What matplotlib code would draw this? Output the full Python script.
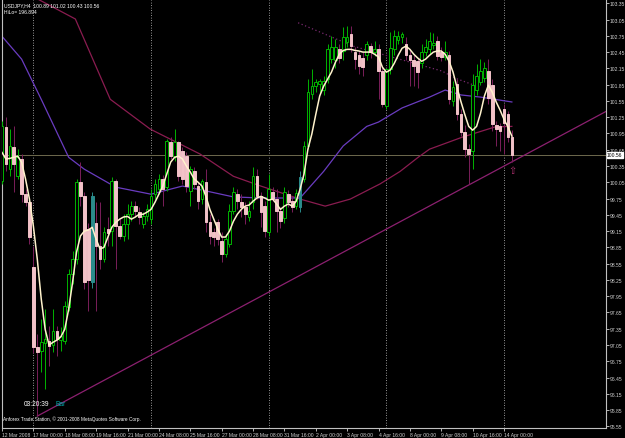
import numpy as np
import matplotlib.pyplot as plt

# USDJPY H4 candles (bar 0 = left edge)
opens = [100.07, 101.06, 100.29, 100.70, 100.16, 100.48, 99.83, 99.68, 98.48, 97.01,
         96.94, 97.08, 97.12, 97.05, 97.31, 97.14, 97.12, 97.75, 98.36, 98.63,
         100.05, 99.79, 99.19, 98.21, 99.30, 98.87, 98.63, 99.19, 99.15, 100.07,
         99.24, 99.06, 99.28, 99.46, 99.61, 99.50, 99.28, 99.43, 99.37, 99.83,
         99.92, 100.11, 99.96, 100.79, 100.53, 100.79, 100.62, 100.53, 99.89, 100.25,
         99.98, 99.74, 100.05, 99.31, 99.13, 99.31, 98.96, 98.72, 98.91, 99.52,
         99.83, 99.68, 99.59, 99.41, 99.68, 100.16, 99.79, 99.61, 99.13, 99.87,
         99.74, 99.52, 99.40, 99.83, 99.70, 99.62, 99.59, 100.11, 100.72, 101.68,
         101.82, 101.86, 101.75, 101.95, 102.32, 102.30, 102.50, 102.47, 102.63, 102.78,
         102.46, 102.40, 102.35, 102.40, 102.56, 102.45, 102.50, 102.11, 101.45, 102.13,
         102.50, 102.68, 102.72, 102.60, 102.40, 102.30, 102.28, 102.25, 102.45, 102.50,
         102.58, 102.65, 102.45, 102.36, 102.40, 101.55, 101.87, 101.30, 100.97, 100.66,
         100.62, 101.75, 101.90, 101.98, 102.10, 101.85, 101.10, 101.08, 101.40, 101.30,
         100.89]
highs = [101.18, 101.25, 101.03, 101.08, 100.66, 100.57, 99.92, 99.74, 98.87, 97.25,
         97.53, 97.71, 97.40, 97.71, 97.40, 97.38, 97.86, 98.45, 98.78, 100.11,
         100.42, 99.87, 99.30, 99.87, 99.68, 99.68, 99.22, 99.41, 100.14, 100.11,
         99.37, 99.46, 99.65, 99.70, 99.70, 99.59, 99.50, 99.65, 99.92, 100.11,
         100.20, 100.18, 100.84, 100.88, 101.03, 100.81, 100.70, 100.60, 100.35, 100.33,
         100.05, 100.11, 100.29, 99.46, 99.20, 99.37, 99.13, 99.09, 99.65, 99.96,
         99.92, 99.83, 99.68, 99.70, 100.33, 100.29, 99.87, 99.70, 100.20, 99.96,
         99.92, 99.60, 99.96, 99.90, 99.80, 99.92, 100.25, 100.81, 101.95, 102.13,
         101.95, 101.96, 102.00, 102.60, 102.74, 102.69, 102.60, 102.91, 102.93, 102.93,
         102.55, 102.47, 102.45, 102.65, 102.62, 102.65, 102.60, 102.20, 102.15, 102.82,
         102.85, 102.84, 102.82, 102.72, 102.50, 102.40, 102.35, 102.59, 102.69, 102.82,
         102.80, 102.74, 102.55, 102.65, 102.47, 101.92, 101.95, 101.40, 101.10, 100.75,
         102.04, 102.23, 102.32, 102.26, 102.32, 101.95, 101.18, 101.15, 101.50, 101.36,
         101.02]
lows = [100.02, 100.26, 100.16, 99.87, 100.11, 99.68, 99.61, 98.91, 96.90, 95.74,
        96.55, 96.24, 96.66, 96.92, 96.85, 96.94, 97.07, 97.67, 98.17, 98.54,
        99.61, 98.08, 97.67, 98.10, 97.67, 98.45, 98.58, 98.87, 98.87, 98.45,
        99.00, 98.96, 99.00, 99.33, 99.41, 99.28, 99.20, 99.33, 99.28, 99.74,
        99.83, 99.61, 99.89, 100.48, 100.44, 100.07, 100.02, 99.87, 99.61, 99.92,
        99.55, 99.65, 99.13, 98.91, 98.87, 98.90, 98.58, 98.67, 98.85, 99.46,
        99.55, 99.41, 99.28, 99.33, 99.55, 99.74, 99.22, 99.04, 99.06, 99.70,
        99.13, 99.20, 99.30, 99.60, 99.50, 99.55, 99.50, 100.05, 100.66, 101.58,
        101.72, 101.70, 101.65, 101.88, 102.25, 102.15, 102.25, 102.30, 102.55, 102.45,
        102.13, 102.05, 102.00, 102.30, 102.35, 102.38, 101.58, 101.43, 101.40, 102.05,
        102.40, 102.60, 102.62, 102.30, 101.82, 101.82, 101.78, 102.15, 102.38, 102.42,
        102.50, 102.30, 102.28, 102.30, 101.50, 101.45, 101.20, 100.90, 100.51, 100.02,
        100.29, 101.65, 101.85, 101.90, 101.50, 101.00, 100.72, 100.62, 100.57, 100.80,
        100.43]
closes = [101.08, 100.38, 100.72, 100.38, 100.51, 99.83, 99.68, 99.04, 97.01, 96.92,
          97.10, 97.16, 97.03, 97.31, 97.16, 97.21, 97.77, 98.36, 98.63, 100.05,
          99.79, 98.21, 98.24, 99.79, 98.87, 98.63, 99.14, 99.12, 100.07, 99.24,
          99.06, 99.28, 99.46, 99.61, 99.52, 99.41, 99.43, 99.55, 99.79, 100.02,
          100.11, 99.92, 100.81, 100.53, 100.79, 100.16, 100.11, 99.98, 100.29, 100.01,
          99.70, 100.07, 99.31, 99.06, 99.04, 99.00, 98.72, 99.00, 99.52, 99.87,
          99.70, 99.59, 99.46, 99.52, 100.16, 99.79, 99.50, 99.15, 99.92, 99.74,
          99.52, 99.33, 99.87, 99.68, 99.60, 99.85, 100.14, 100.72, 101.71, 101.82,
          101.89, 101.91, 101.92, 102.50, 102.54, 102.55, 102.35, 102.72, 102.73, 102.56,
          102.32, 102.20, 102.18, 102.60, 102.45, 102.50, 102.10, 101.50, 102.13, 102.52,
          102.75, 102.74, 102.78, 102.40, 102.30, 102.20, 102.08, 102.45, 102.55, 102.65,
          102.62, 102.38, 102.36, 102.45, 101.58, 101.80, 101.31, 100.97, 100.66, 100.57,
          101.84, 102.00, 102.10, 102.15, 101.60, 101.12, 101.03, 101.00, 101.15, 100.89,
          100.56]
teal_bars = [23, 76]

# fast smoothed average (cream line), one value per bar
fast_ma = [100.60, 100.48, 100.49, 100.51, 100.53, 100.42, 100.11, 99.74, 99.24, 98.63,
           97.90, 97.34, 97.05, 97.10, 97.14, 97.20, 97.34, 97.71, 98.21, 98.76,
           99.06, 99.15, 99.17, 99.22, 99.00, 98.82, 98.85, 99.04, 99.22, 99.31,
           99.37, 99.41, 99.42, 99.37, 99.41, 99.46, 99.46, 99.50, 99.55, 99.68,
           99.83, 99.98, 100.20, 100.42, 100.51, 100.53, 100.48, 100.35, 100.24, 100.11,
           100.05, 99.98, 99.79, 99.55, 99.37, 99.19, 99.04, 99.04, 99.15, 99.33,
           99.46, 99.55, 99.61, 99.63, 99.70, 99.76, 99.79, 99.76, 99.72, 99.74,
           99.65, 99.55, 99.61, 99.65, 99.61, 99.70, 99.92, 100.20, 100.66, 100.94,
           101.30, 101.64, 101.82, 101.95, 102.08, 102.26, 102.41, 102.48, 102.50, 102.50,
           102.48, 102.47, 102.45, 102.45, 102.45, 102.41, 102.36, 102.17, 102.08, 102.12,
           102.24, 102.39, 102.52, 102.56, 102.50, 102.41, 102.34, 102.28, 102.32, 102.39,
           102.45, 102.47, 102.47, 102.41, 102.28, 102.08, 101.80, 101.54, 101.30, 101.08,
           101.01, 101.08, 101.32, 101.64, 101.84, 101.71, 101.53, 101.38, 101.21, 101.07,
           100.90]

# slower averages, read at a few bars
mid_ma_bars = [0, 5, 10, 17, 21, 29, 38, 46, 52, 59, 66, 76, 82, 87, 93, 96, 102, 109, 113, 117, 122, 130]
mid_ma = [102.74, 102.32, 101.58, 100.51, 100.29, 99.96, 99.83, 99.98, 99.89, 99.78, 99.76,
          99.76, 100.25, 100.72, 101.08, 101.16, 101.42, 101.62, 101.75, 101.66, 101.62, 101.53]
slow_ma_bars = [9.3, 18.7, 27.6, 37.8, 50.5, 59, 66, 76, 82.4, 88.8, 96.4, 101.5, 106.1, 109, 117.3, 125.7, 130]
slow_ma = [103.42, 103.06, 101.58, 101.03, 100.57, 100.16, 99.98, 99.74, 99.61, 99.74, 100.02,
           100.25, 100.51, 100.66, 100.88, 101.07, 101.08]
long_ma_bars = [75.5, 89.5, 112.2, 115.5, 121.9]
long_ma = [102.99, 102.56, 102.10, 101.97, 101.80]

# support line anchors (bar, price)
trend_a = (9, 95.74)
trend_b = (119, 100.00)

price_ticks = [round(103.35 - 0.30 * k, 2) for k in range(27)]
date_pos = [0, 8, 16, 24, 32, 40, 48, 56, 64, 72, 80, 88, 96, 104, 112, 120, 128]
date_labels = ['12 Mar 2008', '17 Mar 00:00', '18 Mar 08:00', '19 Mar 16:00', '21 Mar 00:00',
               '24 Mar 08:00', '25 Mar 16:00', '27 Mar 00:00', '28 Mar 08:00', '31 Mar 16:00',
               '2 Apr 00:00', '3 Apr 08:00', '4 Apr 16:00', '8 Apr 00:00', '9 Apr 08:00',
               '10 Apr 16:00', '14 Apr 00:00']
week_starts = [8, 38, 68, 98, 128]
last_price = closes[-1]

plt.rcParams['font.family'] = ['Liberation Sans', 'DejaVu Sans']
small = 3.6

W, H = 625, 439
fig = plt.figure(figsize=(W / 100, H / 100), dpi=100, facecolor='black')
ax = fig.add_axes([2 / W, 10 / H, 604 / W, 428 / H], facecolor='black')
xmin, xmax = 0.1, 154.0
ax.set_xlim(xmin, xmax)
ax.set_ylim(95.52, 103.41)

# week separators and price line
for b in week_starts:
    ax.axvline(b, color='#c8c8c8', lw=0.6, ls=(0, (1, 2)), zorder=1)
ax.axhline(last_price, color='#6e6a4e', lw=0.7, zorder=1)

# trend line from the 17 Mar low, extended to the right edge
slope = (trend_b[1] - trend_a[1]) / (trend_b[0] - trend_a[0])
ax.plot([trend_a[0], xmax], [trend_a[1], trend_a[1] + slope * (xmax - trend_a[0])],
        color='#8c2070', lw=0.9, zorder=2)

# moving averages
ax.plot(slow_ma_bars, slow_ma, color='#8a1c50', lw=0.9, zorder=2)
ax.plot(mid_ma_bars, mid_ma, color='#6a3cc0', lw=0.9, zorder=2)
ax.plot(long_ma_bars, long_ma, color='#7a2a70', lw=0.9, ls=(0, (1, 2)), zorder=2)

# candles
x = np.arange(len(closes))
for i in x:
    o, h, l, c = opens[i], highs[i], lows[i], closes[i]
    if i in teal_bars:
        face, edge, wick = '#2a8c8c', '#2a8c8c', '#2a8c8c'
    elif c >= o:
        face, edge, wick = 'black', '#00b400', '#00b400'
    else:
        face, edge, wick = '#f2c2c8', '#f2c2c8', '#7a1e5a'
    ax.vlines(i, l, h, color=wick, lw=0.7, zorder=3)
    body = max(abs(c - o), 0.02)
    ax.bar(i, body, bottom=min(o, c), width=0.68, color=face, edgecolor=edge,
           linewidth=0.7, zorder=4)

ax.plot(x, fast_ma, color='#fff2cc', lw=1.1, zorder=5)

# signal arrow under the last bar
ax.text(len(closes) - 1, 100.27, '\u21e7', color='#b03070', fontsize=7,
        ha='center', va='center', zorder=6, family='DejaVu Sans')

# axes styling
ax.spines['top'].set_visible(False)
for side in ['left', 'right', 'bottom']:
    ax.spines[side].set_color('#c0c0c0')
    ax.spines[side].set_linewidth(0.8)

ax.yaxis.tick_right()
ax.set_yticks(price_ticks)
ax.set_yticklabels(['%.2f' % p for p in price_ticks])
ax.tick_params(axis='y', colors='#d0d0d0', labelsize=small, length=2, width=0.6, pad=0.8)

ax.set_xticks(date_pos)
ax.set_xticklabels(date_labels, ha='left')
ax.tick_params(axis='x', colors='#d0d0d0', labelsize=small, length=2, width=0.6, pad=1)

# current price box on the price scale
ax.annotate('%.2f' % last_price, xy=(1.0, last_price), xycoords=('axes fraction', 'data'),
            xytext=(0.8, 0), textcoords='offset points', fontsize=small, color='black',
            va='center', ha='left',
            bbox=dict(boxstyle='square,pad=0.1', fc='white', ec='white'))

# header and footer texts
fig.text(4 / W, 1 - 6 / H, 'USDJPY,H4  100.89 101.02 100.43 100.56', color='white',
         fontsize=small, va='center')
fig.text(4 / W, 1 - 13 / H, 'HiLo= 196.894', color='white', fontsize=small, va='center')
fig.text(24 / W, 1 - 405 / H, '03:20:39', color='white', fontsize=4.8, va='center')
fig.text(56 / W, 1 - 405 / H, 'Bar', color='#00b0b0', fontsize=4.8, va='center')
fig.text(3 / W, 1 - 419 / H, 'Anforex Trade Station, \u00a9 2001-2008 MetaQuotes Software Corp.',
         color='white', fontsize=3.4, va='center')

fig.savefig('out.png', dpi=100, facecolor='black')
